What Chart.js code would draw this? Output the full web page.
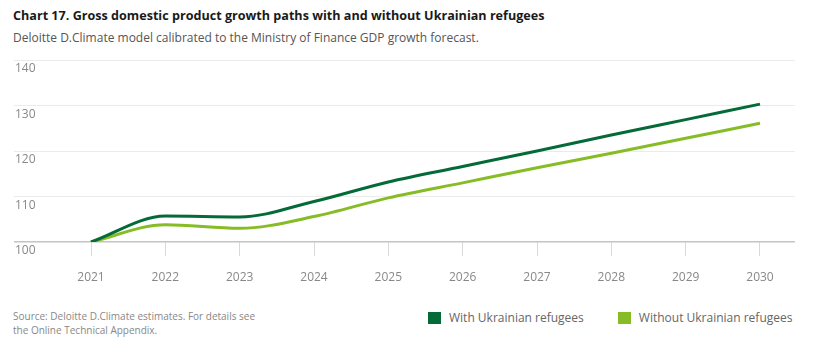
<!DOCTYPE html>
<html>
<head>
<meta charset="utf-8">
<script src="https://cdn.jsdelivr.net/npm/chart.js@4.4.1/dist/chart.umd.min.js"></script>
<style>
  html, body { margin: 0; padding: 0; background: #fff; }
  body { width: 819px; height: 357px; position: relative; overflow: hidden; font-family: "Open Sans", sans-serif; }
  #title { position: absolute; left: 13px; top: 7px; font-size: 12.6px; font-weight: 700; color: #1a1a1a; white-space: nowrap; }
  #subtitle { position: absolute; left: 13px; top: 29px; font-size: 12px; color: #555; white-space: nowrap; }
  #wrap { position: absolute; left: 0; top: 50px; width: 819px; height: 250px; }
  #source { position: absolute; left: 13px; top: 309px; font-size: 10px; line-height: 14px; color: #888; }
  #legend { position: absolute; left: 428px; top: 309px; font-size: 12px; color: #666; white-space: nowrap; }
  .li { display: inline-flex; align-items: center; margin-right: 34px; }
  .sw { width: 13px; height: 12px; display: inline-block; margin-right: 8px; }
</style>
</head>
<body>
<div id="title">Chart 17. Gross domestic product growth paths with and without Ukrainian refugees</div>
<div id="subtitle">Deloitte D.Climate model calibrated to the Ministry of Finance GDP growth forecast.</div>
<div id="wrap"><canvas id="c"></canvas></div>
<div id="source">Source: Deloitte D.Climate estimates. For details see<br>the Online Technical Appendix.</div>
<div id="legend"></div>
<script>
const years = [2021, 2022, 2023, 2024, 2025, 2026, 2027, 2028, 2029, 2030];
const withRefugees = [100, 105.7, 105.5, 108.9, 113.2, 116.6, 120.0, 123.5, 126.9, 130.3];
const withoutRefugees = [100, 103.8, 103.0, 105.6, 109.7, 113.0, 116.3, 119.5, 122.8, 126.1];
const yTicks = [100, 110, 120, 130, 140];
const seriesNames = ["With Ukrainian refugees", "Without Ukrainian refugees"];
const colors = ["#046A38", "#86BC25"];

const legend = document.getElementById('legend');
seriesNames.forEach((n, i) => {
  const s = document.createElement('span'); s.className = 'li';
  s.innerHTML = '<span class="sw" style="background:' + colors[i] + '"></span>' + n;
  legend.appendChild(s);
});

const toPts = arr => arr.map((v, i) => ({ x: years[i], y: v }));

new Chart(document.getElementById('c'), {
  type: 'line',
  data: {
    datasets: [
      { label: seriesNames[0], data: toPts(withRefugees), borderColor: colors[0], backgroundColor: colors[0], borderWidth: 3, pointRadius: 0, tension: 0.4, cubicInterpolationMode: 'monotone' },
      { label: seriesNames[1], data: toPts(withoutRefugees), borderColor: colors[1], backgroundColor: colors[1], borderWidth: 3, pointRadius: 0, tension: 0.4, cubicInterpolationMode: 'monotone' }
    ]
  },
  options: {
    responsive: true,
    maintainAspectRatio: false,
    animation: false,
    layout: { padding: { left: 14, right: 24, top: 10, bottom: 0 } },
    plugins: { legend: { display: false }, tooltip: { enabled: false } },
    scales: {
      x: {
        type: 'linear',
        min: 2021 - 77 / 74.33,
        max: 2030 + 35 / 74.33,
        afterBuildTicks: s => { s.ticks = years.map(v => ({ value: v })); },
        afterFit: s => { s.height = 58; },
        border: { display: false },
        grid: { drawOnChartArea: false, drawTicks: true, tickLength: 14, color: '#d9d9d9' },
        ticks: { color: '#888', font: { family: 'Open Sans', size: 12 }, padding: 14, maxRotation: 0, autoSkip: false, callback: v => String(v) }
      },
      y: {
        min: 100,
        max: 140,
        afterBuildTicks: s => { s.ticks = yTicks.map(v => ({ value: v })); },
        afterFit: s => { s.width = 0; },
        border: { display: false },
        grid: {
          drawTicks: false,
          color: ctx => ctx.tick && ctx.tick.value === 100 ? '#c4c4c4' : '#ebebeb',
          lineWidth: ctx => ctx.tick && ctx.tick.value === 100 ? 1.5 : 1
        },
        ticks: { mirror: true, labelOffset: 9, padding: 1, color: '#888', font: { family: 'Open Sans', size: 12 } }
      }
    }
  }
});
</script>
</body>
</html>
